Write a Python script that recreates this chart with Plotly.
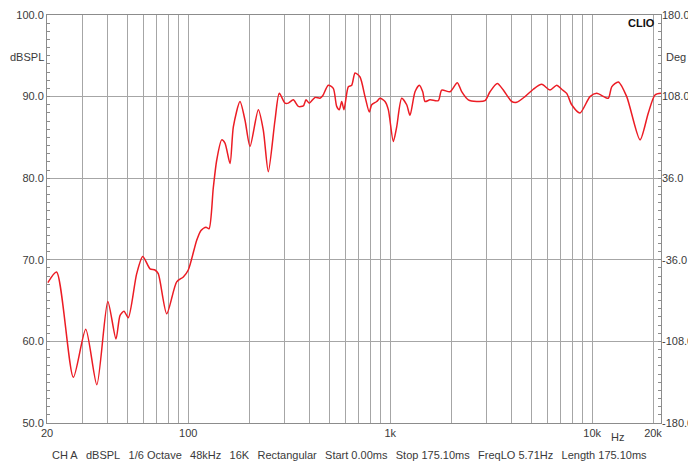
import math
import plotly.graph_objects as go

# Frequency response (Hz, dBSPL)
freq_hz = [20.2, 22.3, 27.0, 31.1, 35.3, 40.0, 43.9, 46.0, 48.1, 50.5, 55.6, 59.6, 64.7,
           68.5, 71.1, 78.3, 87.7, 94.6, 100.1, 110.2, 115.7, 122.5, 126.8, 133.1, 138.4,
           146.5, 152.1, 161.1, 167.3, 180.5, 191.1, 202.3, 222.4, 235.4, 249.2, 269.0,
           282.5, 301.5, 313.0, 331.4, 350.9, 371.4, 383.0, 397.6, 424.5, 449.2, 463.3,
           493.8, 522.8, 543.4, 560.0, 575.4, 590.7, 620.4, 645.0, 669.7, 708.9, 750.5,
           788.0, 809.7, 857.5, 890.3, 942.5, 978.7, 1036, 1077, 1140, 1207, 1253, 1327,
           1394, 1449, 1487, 1574, 1730, 1799, 1978, 2149, 2259, 2436, 2681, 2947, 3120,
           3391, 3630, 3995, 4229, 4649, 5110, 5626, 6183, 6673, 7066, 7478, 7916, 8702,
           9753, 10530, 12010, 12490, 13470, 14820, 17250, 18960, 20460, 21910]
spl_db = [67.2, 68.5, 55.6, 61.5, 54.7, 64.9, 60.3, 63.2, 63.7, 62.9, 68.3, 70.4, 68.9,
          68.75, 68.3, 63.4, 67.3, 67.9, 68.75, 72.4, 73.6, 74.0, 73.8, 78.8, 82.2,
          84.7, 84.3, 81.8, 86.3, 89.4, 87.1, 83.9, 88.4, 85.9, 80.8, 87.1,
          90.4, 89.2, 89.2, 89.6, 88.8, 88.85, 89.6, 89.2, 89.9, 89.8, 90.1,
          91.4, 91.0, 88.8, 88.4, 89.4, 88.4, 91.2, 91.4, 92.9, 92.4, 90.0,
          88.1, 89.0, 89.4, 89.8, 89.4, 88.4, 84.5, 86.3, 89.8, 89.0, 87.7, 90.6,
          91.4, 90.6, 89.4, 89.6, 89.5, 90.8, 90.6, 91.7, 90.6, 89.6, 89.4, 89.5, 90.6,
          91.6, 90.8, 89.4, 89.3, 90.0, 90.9, 91.5, 90.8, 91.4, 90.9, 90.4, 89.0, 88.0,
          90.0, 90.4, 89.8, 91.2, 91.8, 90.0, 84.7, 88.0, 90.2, 90.4]

grid_freqs = [20, 30, 40, 50, 60, 70, 80, 90,
              100, 200, 300, 400, 500, 600, 700, 800, 900,
              1000, 2000, 3000, 4000, 5000, 6000, 7000, 8000, 9000,
              10000, 20000]
x_labels = {20: "20", 100: "100", 1000: "1k", 10000: "10k", 20000: "20k"}
db_ticks = [50, 60, 70, 80, 90, 100]
deg_ticks = [-180, -108, -36, 36, 108, 180]
footer_items = ["CH A", "dBSPL", "1/6 Octave", "48kHz", "16K", "Rectangular",
                "Start 0.00ms", "Stop 175.10ms", "FreqLO 5.71Hz", "Length 175.10ms"]

FONT = "Liberation Sans, Arial, sans-serif"
GRID = "#a6a6a6"
AXIS = "#8c8c8c"
TXT = "#3a3a3a"

# page body has an 8px default margin: figure is sized/offset to compensate
OFF = 8
W, H = 696 - OFF, 465 - OFF
L, R, T, B = 47 - OFF, 35, 15 - OFF, 42
PW, PH = W - L - R, H - T - B

fig = go.Figure()
fig.add_trace(go.Scatter(x=freq_hz, y=spl_db, mode="lines",
                         line=dict(color="rgb(236,28,36)", width=1.5, shape="spline", smoothing=0.7),
                         hoverinfo="skip", showlegend=False))
fig.add_trace(go.Scatter(x=[20], y=[0], yaxis="y2", mode="markers",
                         marker=dict(opacity=0), showlegend=False, hoverinfo="skip"))

fig.update_layout(
    width=W, height=H,
    margin=dict(l=L, r=R, t=T, b=B, pad=0),
    paper_bgcolor="white", plot_bgcolor="white",
    font=dict(family=FONT, size=11, color=TXT),
    xaxis=dict(type="log", range=[math.log10(20), 4.3406],
               tickvals=grid_freqs,
               ticktext=[x_labels.get(f, "") for f in grid_freqs],
               showgrid=True, gridcolor=GRID, gridwidth=1,
               ticks="", showline=True, linecolor=AXIS, linewidth=1, mirror=True,
               zeroline=False, automargin=False, tickfont=dict(size=11, color=TXT)),
    yaxis=dict(range=[50, 100], tickvals=db_ticks,
               ticktext=["%.1f" % v for v in db_ticks],
               showgrid=True, gridcolor=GRID, gridwidth=1,
               ticks="inside", ticklen=3, tickcolor=AXIS,
               minor=dict(dtick=1, tick0=50, ticks="inside", ticklen=3, tickcolor=AXIS, showgrid=False),
               showline=True, linecolor=AXIS, linewidth=1, mirror=True,
               zeroline=False, automargin=False, tickfont=dict(size=11, color=TXT)),
    yaxis2=dict(range=[-180, 180], overlaying="y", side="right",
                tickvals=deg_ticks, ticktext=["%.1f" % v for v in deg_ticks],
                showgrid=False, ticks="inside", ticklen=3, tickcolor=AXIS,
                minor=dict(dtick=7.2, tick0=-180, ticks="inside", ticklen=3, tickcolor=AXIS, showgrid=False),
                ticklabelstandoff=0,
                showline=False, zeroline=False, automargin=False, tickfont=dict(size=11, color=TXT)),
)

# annotation positions given in page pixels
ann = [
    dict(text="dBSPL", x=27, y=57),
    dict(text="Deg", x=676, y=57),
    dict(text="Hz", x=617, y=437),
    dict(text="<b>CLIO</b>", x=641, y=23),
    dict(text="\u00a0\u00a0\u2009".join(footer_items), x=349, y=455),
]
for a in ann:
    fig.add_annotation(text=a["text"], xref="paper", yref="paper",
                       x=(a["x"] - OFF - L) / PW, y=(H - B - (a["y"] - OFF)) / PH,
                       xanchor="center", yanchor="middle", showarrow=False,
                       font=dict(family=FONT, size=11, color="#111" if "CLIO" in a["text"] else TXT))

fig.write_html("out.html")
